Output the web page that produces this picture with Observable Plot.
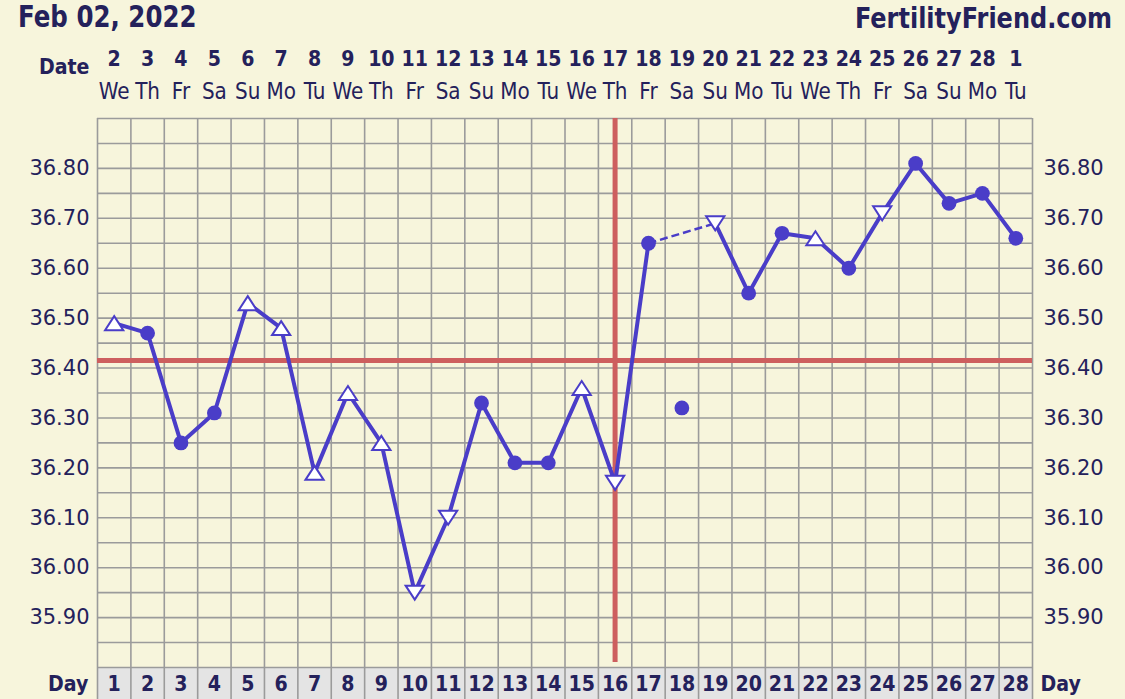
<!DOCTYPE html>
<html><head><meta charset="utf-8">
<script src="https://cdn.jsdelivr.net/npm/d3@7"></script>
<script src="https://cdn.jsdelivr.net/npm/@observablehq/plot@0.6"></script>
<style>
html,body{margin:0;padding:0;background:#f7f5dc;}
#wrap{position:relative;width:1125px;height:699px;overflow:hidden;background:#f7f5dc;}
.title{position:absolute;font-family:"DejaVu Sans",sans-serif;font-weight:bold;color:#24215b;white-space:nowrap;}
#left{left:18px;top:7.3px;font-size:24.5px;line-height:24.5px;transform-origin:0 20.7px;transform:scaleY(1.2);}
#right{right:13px;top:7.7px;font-size:24px;line-height:24px;transform-origin:0 20.3px;transform:scaleY(1.2);}
#chart{position:absolute;left:0;top:0;}
</style></head><body>
<div id="wrap"><div id="chart"></div><div class="title" id="left">Feb 02, 2022</div><div class="title" id="right">FertilityFriend.com</div></div>
<script>
// ---- data ----
const cycleDays = [1,2,3,4,5,6,7,8,9,10,11,12,13,14,15,16,17,18,19,20,21,22,23,24,25,26,27,28];
const dates = [2,3,4,5,6,7,8,9,10,11,12,13,14,15,16,17,18,19,20,21,22,23,24,25,26,27,28,1];
const weekdays = ["We","Th","Fr","Sa","Su","Mo","Tu","We","Th","Fr","Sa","Su","Mo","Tu","We","Th","Fr","Sa","Su","Mo","Tu","We","Th","Fr","Sa","Su","Mo","Tu"];
const temps = [36.49,36.47,36.25,36.31,36.53,36.48,36.19,36.35,36.25,35.95,36.10,36.33,36.21,36.21,36.36,36.17,36.65,36.32,36.69,36.55,36.67,36.66,36.60,36.71,36.81,36.73,36.75,36.66];
const markers = ["up","dot","dot","dot","up","up","up","up","up","down","down","dot","dot","dot","up","down","dot","dot","down","dot","dot","up","dot","down","dot","dot","dot","dot"];
const discarded = [18];
const coverline = 36.415;
const ovulationDay = 16;
const yTicks = [35.90,36.00,36.10,36.20,36.30,36.40,36.50,36.60,36.70,36.80];
const yDomain = [35.80,36.90];

// ---- styles ----
const NAVY = "#24215b", BLUE = "#4a3dc8", RED = "#cd5f5f", GRID = "#9b9b9b";

const rows = cycleDays.map((d,i)=>({day:d, date:dates[i], wd:weekdays[i], temp:temps[i], marker:markers[i], disc:discarded.includes(d)}));
const kept = rows.filter(r=>!r.disc);
const segs = d3.pairs(kept).map(([a,b])=>({x1:a.day,y1:a.temp,x2:b.day,y2:b.temp,gap:b.day-a.day>1}));
const hGrid = d3.range(Math.round((yDomain[1]-yDomain[0])/0.05)+1).map(i=>+(yDomain[0]+i*0.05).toFixed(2));
const vGrid = [cycleDays[0]-0.5, ...cycleDays.map(d=>d+0.5)];

const triUp = {draw(ctx,size){const r=Math.sqrt(size/Math.PI); ctx.moveTo(0,-r); ctx.lineTo(1.3*r,r); ctx.lineTo(-1.3*r,r); ctx.closePath();}};
const triDown = {draw(ctx,size){const r=Math.sqrt(size/Math.PI); ctx.moveTo(0,r); ctx.lineTo(1.3*r,-r); ctx.lineTo(-1.3*r,-r); ctx.closePath();}};

const txt = {fill:NAVY, lineAnchor:"middle"};

const plot = Plot.plot({
  width:1125, height:699, marginTop:118, marginBottom:32, marginLeft:97, marginRight:93,
  x:{domain:[cycleDays[0]-0.5, cycleDays[cycleDays.length-1]+0.5], axis:null},
  y:{domain:yDomain, axis:null},
  style:{background:"transparent", fontFamily:"DejaVu Sans, sans-serif", color:NAVY, fontSize:"21px"},
  marks:[
    Plot.rect(cycleDays, {x1:d=>d-0.5, x2:d=>d+0.5, y1:yDomain[0], y2:yDomain[0], insetBottom:-32, fill:"#e4e4e4"}),
    Plot.ruleY(hGrid, {stroke:GRID, strokeWidth:1.6}),
    Plot.ruleX(vGrid, {stroke:GRID, strokeWidth:1.6, insetBottom:-32}),
    Plot.ruleY([coverline], {stroke:RED, strokeWidth:5}),
    Plot.ruleX([ovulationDay], {stroke:RED, strokeWidth:5, insetBottom:5}),
    Plot.link(segs.filter(s=>!s.gap), {x1:"x1", y1:"y1", x2:"x2", y2:"y2", stroke:BLUE, strokeWidth:4, strokeLinecap:"round"}),
    Plot.link(segs.filter(s=>s.gap), {x1:"x1", y1:"y1", x2:"x2", y2:"y2", stroke:BLUE, strokeWidth:2.5, strokeDasharray:"8,4"}),
    Plot.dot(rows.filter(r=>r.marker==="dot"), {x:"day", y:"temp", r:7.4, fill:BLUE}),
    Plot.dot(rows.filter(r=>r.marker==="up"), {x:"day", y:"temp", r:7, symbol:triUp, fill:"white", stroke:BLUE, strokeWidth:2}),
    Plot.dot(rows.filter(r=>r.marker==="down"), {x:"day", y:"temp", r:7, symbol:triDown, fill:"white", stroke:BLUE, strokeWidth:2}),
    Plot.text(rows, {x:"day", text:"date", frameAnchor:"top", dy:-60, fontSize:19, fontWeight:"bold", ...txt}),
    Plot.text(rows, {x:"day", text:"wd", frameAnchor:"top", dy:-27, fontSize:20, ...txt}),
    Plot.text(["Date"], {frameAnchor:"top-left", dx:-8, dy:-52, textAnchor:"end", fontSize:19, fontWeight:"bold", ...txt}),
    Plot.text(rows, {x:"day", text:"day", frameAnchor:"bottom", dy:16, fontSize:19, fontWeight:"bold", ...txt}),
    Plot.text(["Day"], {frameAnchor:"bottom-left", dx:-9, dy:16, textAnchor:"end", fontSize:19, fontWeight:"bold", ...txt}),
    Plot.text(["Day"], {frameAnchor:"bottom-right", dx:8, dy:16, textAnchor:"start", fontSize:19, fontWeight:"bold", ...txt}),
    Plot.axisY(yTicks, {anchor:"left", tickSize:0, tickPadding:8, tickFormat:d=>d.toFixed(2), fontSize:21, fill:NAVY}),
    Plot.axisY(yTicks, {anchor:"right", tickSize:0, tickPadding:11, tickFormat:d=>d.toFixed(2), fontSize:21, fill:NAVY})
  ]
});
document.getElementById("chart").appendChild(plot);
// slightly taller lettering, as in the original chart
d3.select(plot).selectAll('g[aria-label="text"] text').each(function(){
  const b = this.getBBox();
  const cy = b.y + b.height/2;
  const t = this.getAttribute("transform") || "";
  this.setAttribute("transform", `${t} translate(0,${cy}) scale(1,1.15) translate(0,${-cy})`);
});
</script>
</body></html>
